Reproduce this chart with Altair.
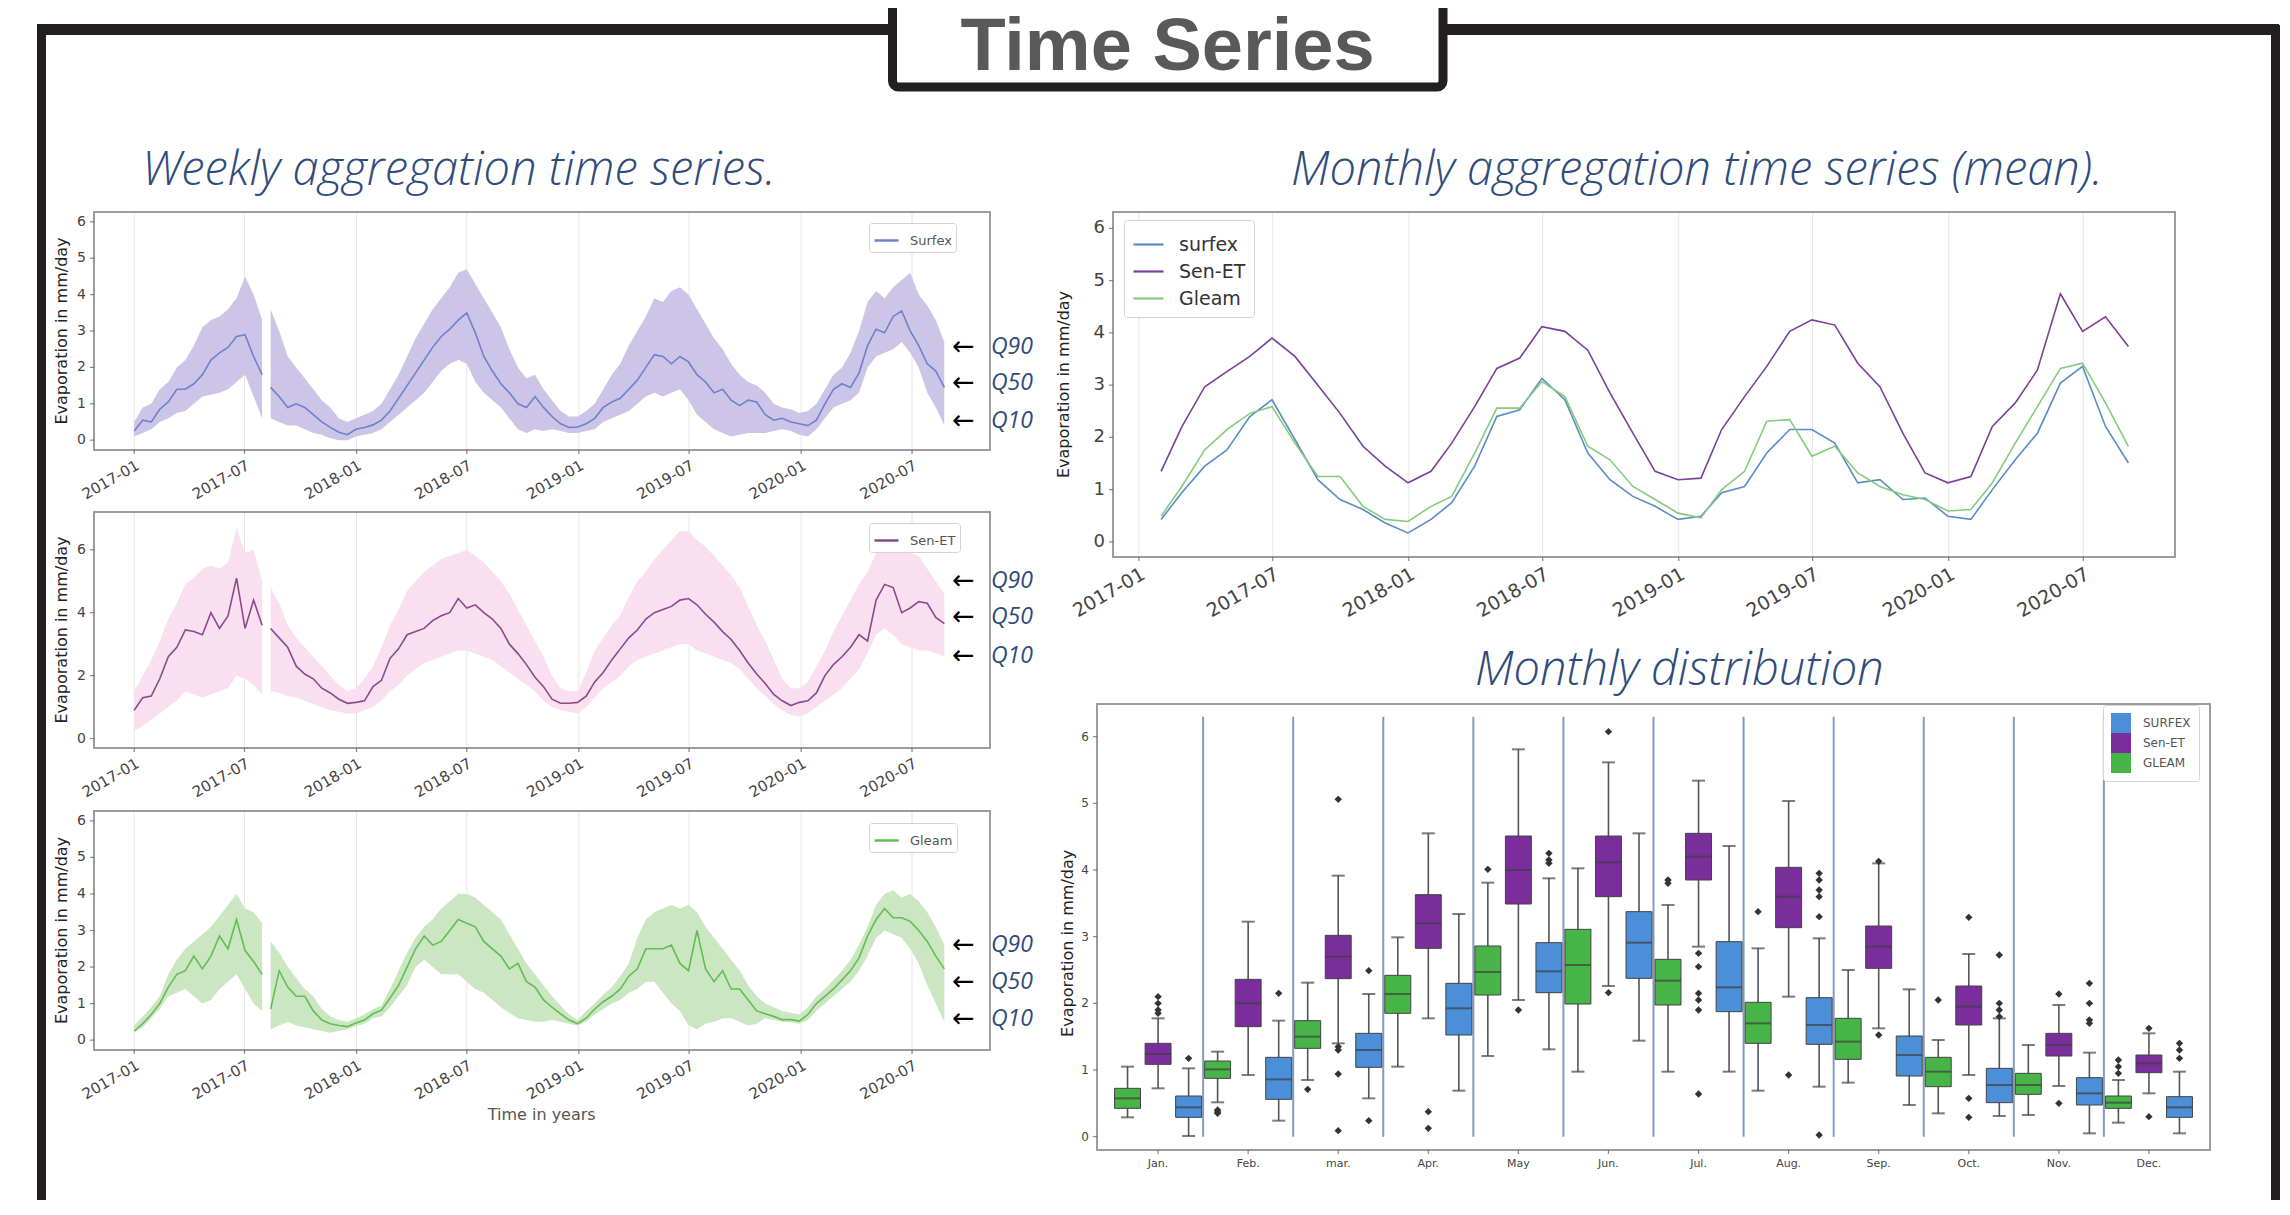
import altair as alt
import pandas as pd

W, H = 2272, 1192
BLUE_TXT = "#2f4b7c"

surfex_q50 = [0.25, 0.55, 0.50, 0.85, 1.05, 1.40, 1.40, 1.55,
              1.80, 2.20, 2.40, 2.55, 2.85, 2.90, 2.30, 1.80,
              1.45, 1.20, 0.90, 1.00, 0.90, 0.70, 0.50, 0.35,
              0.22, 0.15, 0.30, 0.35, 0.42, 0.55, 0.80, 1.15,
              1.50, 1.85, 2.20, 2.55, 2.85, 3.05, 3.30, 3.50,
              2.95, 2.30, 1.90, 1.55, 1.30, 1.00, 0.90, 1.20,
              0.90, 0.65, 0.45, 0.35, 0.36, 0.45, 0.60, 0.90,
              1.05, 1.15, 1.40, 1.65, 2.00, 2.35, 2.30, 2.10,
              2.30, 2.15, 1.80, 1.60, 1.30, 1.40, 1.10, 0.95,
              1.10, 1.05, 0.70, 0.55, 0.60, 0.50, 0.45, 0.40,
              0.55, 1.00, 1.40, 1.55, 1.45, 1.85, 2.60, 3.05,
              2.95, 3.40, 3.55, 3.00, 2.60, 2.10, 1.90, 1.45]
surfex_q10 = [0.10, 0.20, 0.30, 0.50, 0.60, 0.75, 0.80, 1.00,
              1.20, 1.25, 1.30, 1.40, 1.60, 1.80, 1.20, 0.60,
              0.60, 0.50, 0.40, 0.40, 0.30, 0.20, 0.15, 0.05,
              0.00, 0.00, 0.10, 0.15, 0.20, 0.30, 0.50, 0.70,
              0.90, 1.10, 1.30, 1.60, 1.90, 2.10, 2.20, 2.10,
              1.60, 1.30, 1.10, 0.90, 0.60, 0.30, 0.20, 0.30,
              0.25, 0.30, 0.25, 0.20, 0.20, 0.25, 0.30, 0.50,
              0.60, 0.70, 0.80, 1.00, 1.20, 1.30, 1.20, 1.30,
              1.40, 1.10, 0.70, 0.50, 0.30, 0.20, 0.10, 0.15,
              0.20, 0.20, 0.20, 0.25, 0.30, 0.25, 0.15, 0.10,
              0.30, 0.60, 0.90, 1.00, 1.10, 1.30, 2.00, 2.30,
              2.40, 2.50, 2.70, 2.40, 2.00, 1.30, 0.90, 0.40]
surfex_q90 = [0.50, 0.90, 1.00, 1.40, 1.60, 2.00, 2.20, 2.60,
              3.10, 3.30, 3.40, 3.60, 3.90, 4.50, 4.00, 3.30,
              3.60, 3.00, 2.30, 2.00, 1.70, 1.40, 1.10, 0.90,
              0.60, 0.50, 0.60, 0.70, 0.80, 1.00, 1.40, 1.80,
              2.30, 2.80, 3.20, 3.60, 3.90, 4.20, 4.60, 4.70,
              4.30, 3.90, 3.50, 3.10, 2.50, 2.00, 1.70, 1.80,
              1.40, 1.10, 0.80, 0.65, 0.65, 0.80, 1.00, 1.40,
              1.80, 2.10, 2.60, 3.00, 3.40, 3.90, 3.80, 4.10,
              4.20, 4.00, 3.60, 3.20, 2.80, 2.50, 2.10, 1.80,
              1.60, 1.50, 1.30, 1.00, 0.90, 0.85, 0.75, 0.80,
              1.00, 1.40, 1.80, 2.00, 2.40, 3.00, 3.80, 4.10,
              3.90, 4.20, 4.40, 4.60, 4.00, 3.70, 3.30, 2.70]

senet_q50 = [0.90, 1.30, 1.35, 1.90, 2.60, 2.90, 3.45, 3.40,
             3.30, 4.00, 3.50, 3.90, 5.10, 3.50, 4.40, 3.60,
             3.50, 3.20, 2.90, 2.30, 2.05, 1.90, 1.60, 1.45,
             1.25, 1.12, 1.15, 1.20, 1.65, 1.85, 2.55, 2.85,
             3.30, 3.40, 3.50, 3.75, 3.90, 4.00, 4.45, 4.15,
             4.25, 4.00, 3.80, 3.50, 3.00, 2.70, 2.35, 1.95,
             1.65, 1.25, 1.12, 1.12, 1.15, 1.35, 1.80, 2.10,
             2.50, 2.85, 3.20, 3.45, 3.80, 4.00, 4.10, 4.20,
             4.40, 4.45, 4.25, 3.95, 3.70, 3.40, 3.15, 2.80,
             2.40, 2.05, 1.75, 1.40, 1.20, 1.05, 1.15, 1.20,
             1.45, 2.00, 2.35, 2.60, 2.90, 3.30, 3.10, 4.40,
             4.90, 4.80, 4.00, 4.15, 4.35, 4.30, 3.85, 3.65]
senet_q10 = [0.25, 0.40, 0.60, 0.80, 1.00, 1.20, 1.50, 1.40,
             1.30, 1.40, 1.50, 1.60, 2.00, 1.90, 1.70, 1.40,
             1.50, 1.45, 1.35, 1.30, 1.20, 1.10, 1.00, 0.90,
             0.85, 0.80, 0.80, 0.90, 1.00, 1.20, 1.50, 1.70,
             2.00, 2.20, 2.40, 2.50, 2.60, 2.70, 2.80, 2.80,
             2.70, 2.60, 2.50, 2.30, 2.10, 1.90, 1.70, 1.50,
             1.20, 1.00, 0.90, 0.85, 0.80, 1.00, 1.30, 1.60,
             1.80, 2.00, 2.30, 2.50, 2.60, 2.70, 2.80, 2.90,
             3.00, 3.00, 2.80, 2.70, 2.60, 2.50, 2.40, 2.20,
             1.90, 1.60, 1.35, 1.10, 0.90, 0.75, 0.70, 0.80,
             1.00, 1.20, 1.40, 1.60, 1.90, 2.20, 2.70, 3.30,
             3.50, 3.30, 3.00, 2.90, 2.80, 2.80, 2.70, 2.60]
senet_q90 = [1.50, 2.00, 2.50, 3.10, 3.80, 4.30, 4.90, 5.10,
             5.40, 5.50, 5.40, 5.60, 6.70, 5.90, 6.00, 5.00,
             4.80, 4.30, 3.60, 3.20, 2.90, 2.60, 2.30, 2.00,
             1.70, 1.50, 1.60, 1.90, 2.30, 2.90, 3.60, 4.10,
             4.70, 5.00, 5.30, 5.50, 5.70, 5.80, 5.90, 6.00,
             5.80, 5.60, 5.30, 5.00, 4.60, 4.10, 3.60, 3.10,
             2.60, 2.00, 1.60, 1.50, 1.50, 2.10, 2.80, 3.20,
             3.60, 3.90, 4.50, 5.00, 5.30, 5.70, 6.00, 6.30,
             6.60, 6.60, 6.30, 6.10, 5.80, 5.50, 5.20, 4.80,
             4.20, 3.60, 3.10, 2.50, 1.90, 1.60, 1.60, 1.80,
             2.30, 2.80, 3.40, 3.90, 4.40, 4.90, 5.30, 5.90,
             6.10, 6.10, 6.00, 5.90, 5.80, 5.40, 5.00, 4.60]

gleam_q50 = [0.25, 0.45, 0.70, 1.00, 1.45, 1.80, 1.90, 2.30,
             1.95, 2.30, 2.85, 2.50, 3.30, 2.45, 2.15, 1.80,
             0.85, 1.90, 1.45, 1.20, 1.20, 0.80, 0.55, 0.45,
             0.40, 0.37, 0.47, 0.55, 0.72, 0.82, 1.15, 1.50,
             2.00, 2.50, 2.85, 2.60, 2.70, 3.00, 3.30, 3.20,
             3.10, 2.70, 2.50, 2.30, 1.95, 2.10, 1.60, 1.45,
             1.10, 0.90, 0.72, 0.55, 0.45, 0.60, 0.85, 1.05,
             1.20, 1.40, 1.75, 1.95, 2.50, 2.50, 2.50, 2.60,
             2.10, 1.90, 3.00, 1.95, 1.60, 1.90, 1.40, 1.40,
             1.10, 0.80, 0.72, 0.65, 0.56, 0.56, 0.52, 0.70,
             1.00, 1.20, 1.40, 1.65, 1.90, 2.25, 2.85, 3.30,
             3.60, 3.35, 3.35, 3.25, 3.00, 2.70, 2.30, 1.95]
gleam_q10 = [0.20, 0.35, 0.60, 0.85, 1.20, 1.30, 1.40, 1.20,
             1.00, 1.10, 1.40, 1.60, 1.80, 1.40, 1.00, 0.80,
             0.30, 0.40, 0.50, 0.40, 0.35, 0.30, 0.25, 0.20,
             0.25, 0.30, 0.38, 0.45, 0.60, 0.65, 0.90, 1.20,
             1.50, 2.00, 2.20, 2.00, 1.80, 1.80, 1.80, 1.60,
             1.40, 1.30, 1.10, 0.90, 0.75, 0.60, 0.55, 0.50,
             0.50, 0.55, 0.50, 0.45, 0.40, 0.50, 0.70, 0.85,
             1.00, 1.10, 1.30, 1.40, 1.60, 1.60, 1.30, 1.00,
             0.80, 0.40, 0.30, 0.45, 0.50, 0.60, 0.60, 0.50,
             0.40, 0.45, 0.60, 0.55, 0.50, 0.48, 0.45, 0.55,
             0.80, 1.00, 1.20, 1.40, 1.60, 1.90, 2.30, 2.80,
             3.00, 2.90, 2.80, 2.50, 2.10, 1.50, 1.00, 0.50]
gleam_q90 = [0.40, 0.65, 0.90, 1.20, 1.80, 2.20, 2.50, 2.70,
             2.90, 3.10, 3.40, 3.70, 4.00, 3.60, 3.50, 3.20,
             2.70, 2.40, 2.00, 1.70, 1.40, 1.20, 0.85, 0.65,
             0.55, 0.50, 0.60, 0.70, 0.85, 0.95, 1.40, 1.90,
             2.40, 2.80, 3.10, 3.30, 3.60, 3.80, 4.00, 4.00,
             3.90, 3.70, 3.50, 3.30, 2.90, 2.50, 2.10, 1.80,
             1.50, 1.20, 0.95, 0.70, 0.55, 0.80, 1.00, 1.25,
             1.45, 1.75, 2.10, 2.80, 3.30, 3.50, 3.60, 3.70,
             3.60, 3.70, 3.50, 3.10, 2.80, 2.50, 2.20, 1.90,
             1.50, 1.20, 1.00, 0.90, 0.80, 0.75, 0.70, 0.90,
             1.20, 1.40, 1.65, 1.90, 2.20, 2.60, 3.10, 3.70,
             4.00, 4.10, 3.90, 4.00, 3.80, 3.50, 3.10, 2.60]

# ---------------- monthly means (month ends 2017-01 .. 2020-08) ----------------
monthly_surfex = [0.43, 0.94, 1.45, 1.76, 2.40, 2.72, 1.96, 1.19, 0.81, 0.62, 0.36, 0.17,
                  0.43, 0.75, 1.45, 2.40, 2.53, 3.13, 2.72, 1.70, 1.19, 0.87, 0.68, 0.43,
                  0.49, 0.94, 1.06, 1.70, 2.15, 2.15, 1.89, 1.13, 1.19, 0.81, 0.84, 0.49,
                  0.43, 1.00, 1.57, 2.08, 3.04, 3.36, 2.21, 1.51]
monthly_senet = [1.35, 2.20, 2.97, 3.26, 3.55, 3.90, 3.55, 3.00, 2.46, 1.83, 1.45, 1.13,
                 1.35, 1.89, 2.59, 3.32, 3.52, 4.12, 4.03, 3.67, 2.85, 2.08, 1.35, 1.19,
                 1.22, 2.15, 2.78, 3.36, 4.03, 4.25, 4.15, 3.42, 2.97, 2.08, 1.32, 1.13,
                 1.25, 2.21, 2.66, 3.29, 4.75, 4.03, 4.31, 3.74]
monthly_gleam = [0.49, 1.06, 1.76, 2.15, 2.46, 2.59, 1.89, 1.25, 1.25, 0.68, 0.43, 0.39,
                 0.68, 0.87, 1.70, 2.56, 2.56, 3.07, 2.78, 1.83, 1.57, 1.06, 0.81, 0.55,
                 0.46, 1.00, 1.35, 2.31, 2.34, 1.64, 1.83, 1.32, 1.06, 0.90, 0.81, 0.59,
                 0.62, 1.13, 1.89, 2.59, 3.32, 3.42, 2.66, 1.83]

# ---------------- monthly distribution (box statistics) ----------------
months = ["Jan.", "Feb.", "mar.", "Apr.", "May", "Jun.", "Jul.", "Aug.", "Sep.", "Oct.", "Nov.", "Dec."]
box_sources = ["SURFEX", "Sen-ET", "GLEAM"]
gleam_lo  = [0.29, 0.515, 0.85, 1.05, 1.21, 0.975, 0.975, 0.69, 0.81, 0.35, 0.325, 0.21]
gleam_q1  = [0.425, 0.875, 1.325, 1.85, 2.125, 1.99, 1.975, 1.40, 1.16, 0.75, 0.635, 0.425]
gleam_med = [0.575, 1.01, 1.50, 2.14, 2.47, 2.575, 2.34, 1.70, 1.425, 0.975, 0.775, 0.51]
gleam_q3  = [0.725, 1.135, 1.74, 2.42, 2.86, 3.11, 2.66, 2.015, 1.775, 1.19, 0.95, 0.61]
gleam_hi  = [1.05, 1.275, 2.31, 2.99, 3.81, 4.025, 3.475, 2.825, 2.50, 1.45, 1.375, 0.85]
senet_lo  = [0.725, 0.925, 1.40, 1.775, 2.05, 2.26, 2.85, 2.10, 1.625, 0.925, 0.76, 0.65]
senet_q1  = [1.085, 1.65, 2.37, 2.825, 3.49, 3.60, 3.85, 3.135, 2.525, 1.675, 1.21, 0.96]
senet_med = [1.24, 2.00, 2.70, 3.20, 4.00, 4.115, 4.20, 3.60, 2.85, 1.95, 1.375, 1.10]
senet_q3  = [1.40, 2.36, 3.02, 3.63, 4.51, 4.51, 4.55, 4.04, 3.16, 2.26, 1.55, 1.225]
senet_hi  = [1.775, 3.225, 3.915, 4.55, 5.81, 5.615, 5.34, 5.035, 4.10, 2.74, 1.975, 1.55]
surfex_lo  = [0.01, 0.24, 0.575, 0.69, 1.31, 1.44, 0.975, 0.75, 0.475, 0.31, 0.05, 0.05]
surfex_q1  = [0.29, 0.56, 1.04, 1.525, 2.16, 2.375, 1.875, 1.385, 0.91, 0.51, 0.475, 0.29]
surfex_med = [0.44, 0.86, 1.30, 1.925, 2.48, 2.91, 2.24, 1.675, 1.225, 0.775, 0.65, 0.44]
surfex_q3  = [0.61, 1.19, 1.55, 2.30, 2.91, 3.375, 2.925, 2.085, 1.51, 1.025, 0.885, 0.60]
surfex_hi  = [1.025, 1.74, 2.14, 3.34, 3.875, 4.55, 4.36, 2.975, 2.21, 1.775, 1.26, 0.975]
gleam_out = {"Feb.": [0.40, 0.35, 0.37], "mar.": [0.71], "May": [4.01], "Jul.": [3.85, 3.80],
             "Aug.": [3.375], "Oct.": [2.05], "Dec.": [0.95, 1.05, 1.15]}
senet_out = {"Jan.": [1.85, 1.90, 2.00, 2.10], "mar.": [5.06, 1.35, 1.30, 0.94, 0.09],
             "Apr.": [0.375, 0.125], "May": [1.90], "Jun.": [6.075, 2.16],
             "Jul.": [2.75, 2.55, 2.15, 2.05, 1.90, 0.64], "Aug.": [0.925], "Sep.": [4.13, 1.525],
             "Oct.": [3.29, 0.575, 0.29], "Nov.": [2.14, 0.50], "Dec.": [1.625, 0.30]}
surfex_out = {"Jan.": [1.175], "Feb.": [2.15], "mar.": [2.49, 0.24], "May": [4.25, 4.15, 4.10],
              "Aug.": [3.95, 3.85, 3.70, 3.60, 3.30, 0.025], "Oct.": [2.00, 1.90, 1.80, 2.725],
              "Nov.": [2.30, 2.00, 1.75, 1.70], "Dec.": [1.40, 1.30, 1.175]}

TICKS = ["2017-01-01", "2017-07-01", "2018-01-01", "2018-07-01",
         "2019-01-01", "2019-07-01", "2020-01-01", "2020-07-01"]
TICK_LABELS = ["2017-01", "2017-07", "2018-01", "2018-07",
               "2019-01", "2019-07", "2020-01", "2020-07"]

for arr in [surfex_q10, surfex_q50, surfex_q90, senet_q10, senet_q50, senet_q90,
            gleam_q10, gleam_q50, gleam_q90]:
    assert len(arr) == 96, len(arr)
for arr in [monthly_surfex, monthly_senet, monthly_gleam]:
    assert len(arr) == 44, len(arr)

# ---------------- helpers ----------------
def D(s):
    y, m, d = (int(p) for p in s.split("-"))
    return alt.DateTime(year=y, month=m, date=d)


WDATES = pd.date_range("2017-01-01", periods=96, freq="14D")
MDATES = pd.date_range("2017-02-01", periods=44, freq="MS") - pd.Timedelta(days=1)

LBL = "#444444"
TCK = "#555555"
FRAME = "#9c9c9c"
GRID = "#e6e6e6"
YTITLE = "Evaporation in mm/day"
AX_FONT = "DejaVu Sans"


def y_axis_marks(x_df_val, x_type, xs, ys, yvals, yfont, title_dx, title_y):
    """Left axis (ticks, labels, title) drawn with marks through the panel's scales."""
    ydf = pd.DataFrame({"v": yvals, "xl": x_df_val, "label": [str(v) for v in yvals]})
    xenc = alt.X(f"xl:{x_type}", scale=xs, axis=None)
    ticks = alt.Chart(ydf).mark_tick(orient="horizontal", size=4, thickness=1.2, color=TCK,
                                     xOffset=-2).encode(x=xenc, y=alt.Y("v:Q", scale=ys, axis=None))
    labels = alt.Chart(ydf).mark_text(align="right", baseline="middle", xOffset=-8, fontSize=yfont,
                                      color=LBL, font=AX_FONT).encode(
        x=xenc, y=alt.Y("v:Q", scale=ys, axis=None), text="label:N")
    tdf = pd.DataFrame({"xl": [x_df_val], "v": [title_y], "t": [YTITLE]})
    title = alt.Chart(tdf).mark_text(angle=270, align="center", baseline="middle", xOffset=title_dx,
                                     fontSize=16, color="#222222", font=AX_FONT).encode(
        x=xenc, y=alt.Y("v:Q", scale=ys, axis=None), text="t:N")
    return [ticks, labels, title]


def x_time_axis_marks(xs, ys, ybottom, xfont, xtitle=None, xtitle_dy=0, xmid=None):
    tdf = pd.DataFrame({"date": pd.to_datetime(TICKS), "label": TICK_LABELS, "yb": ybottom})
    xenc = alt.X("date:T", scale=xs, axis=None)
    yenc = alt.Y("yb:Q", scale=ys, axis=None)
    ticks = alt.Chart(tdf).mark_tick(orient="vertical", size=4, thickness=1.2, color=TCK,
                                     yOffset=2).encode(x=xenc, y=yenc)
    labels = alt.Chart(tdf).mark_text(angle=330, align="right", baseline="top", yOffset=8,
                                      fontSize=xfont, color=LBL, font=AX_FONT).encode(
        x=xenc, y=yenc, text="label:N")
    out = [ticks, labels]
    if xtitle:
        ttl = pd.DataFrame({"date": [xmid], "yb": [ybottom], "t": [xtitle]})
        out.append(alt.Chart(ttl).mark_text(align="center", baseline="middle", yOffset=xtitle_dy,
                                            fontSize=16, color="#555555", font=AX_FONT).encode(
            x=xenc, y=yenc, text="t:N"))
    return out


def weekly_panel(name, q10, q50, q90, line_color, band_color, y_top, y_bot, ydom, yvals,
                 leg_y, q_vals, xtitle):
    df = pd.DataFrame({"date": WDATES, "q10": q10, "q50": q50, "q90": q90})
    df["seg"] = (df["date"] > pd.Timestamp("2017-08-05")).astype(int)
    df["series"] = name
    x0, x1 = "2016-10-27", "2020-11-06"
    xs = alt.Scale(domain=[D(x0), D(x1)], range=[86, 982])
    ys = alt.Scale(domain=ydom, range=[y_bot, y_top], nice=False, zero=False)

    grid_df = pd.DataFrame({"date": pd.to_datetime(TICKS), "ylo": ydom[0], "yhi": ydom[1]})
    grid = alt.Chart(grid_df).mark_rule(color=GRID, strokeWidth=1).encode(
        x=alt.X("date:T", scale=xs, axis=None),
        y=alt.Y("ylo:Q", scale=ys, axis=None), y2="yhi:Q")

    band = alt.Chart(df).mark_area(color=band_color, opacity=1).encode(
        x=alt.X("date:T", scale=xs, axis=None),
        y=alt.Y("q10:Q", scale=ys, axis=None),
        y2="q90:Q", detail="seg:N")

    line = alt.Chart(df).mark_line(strokeWidth=1.6).encode(
        x=alt.X("date:T", scale=xs, axis=None),
        y=alt.Y("q50:Q", scale=ys, axis=None),
        detail="seg:N",
        color=alt.Color("series:N", scale=alt.Scale(domain=[name], range=[line_color]),
                        legend=alt.Legend(orient="none", legendX=861, legendY=leg_y, title=None,
                                          direction="vertical", labelFontSize=13, labelColor="#555555",
                                          symbolType="stroke", symbolSize=576, symbolStrokeWidth=2.5,
                                          labelOffset=10, padding=4,
                                          strokeColor="#d4d4d4", fillColor="white", cornerRadius=3)))

    frame_df = pd.DataFrame({"x0": [pd.Timestamp(x0)], "x1": [pd.Timestamp(x1)],
                             "y0": [ydom[0]], "y1": [ydom[1]]})
    frame = alt.Chart(frame_df).mark_rect(fillOpacity=0, stroke=FRAME, strokeWidth=2).encode(
        x=alt.X("x0:T", scale=xs, axis=None), x2="x1:T",
        y=alt.Y("y0:Q", scale=ys, axis=None), y2="y1:Q")

    qdf = pd.DataFrame({"label": ["Q90", "Q50", "Q10"], "v": q_vals,
                        "ad": pd.Timestamp("2020-09-23"), "td": pd.Timestamp(x1)})
    arrows = alt.Chart(qdf).mark_text(text="\u2190", font="DejaVu Sans", fontSize=27,
                                      color="black", baseline="middle", align="center").encode(
        x=alt.X("ad:T", scale=xs, axis=None), y=alt.Y("v:Q", scale=ys, axis=None))
    qtext = alt.Chart(qdf).mark_text(font="Open Sans", fontStyle="italic", fontSize=23,
                                     color=BLUE_TXT, baseline="middle", align="left", dx=1).encode(
        x=alt.X("td:T", scale=xs, axis=None), y=alt.Y("v:Q", scale=ys, axis=None),
        text="label:N")

    ymid = (ydom[0] + ydom[1]) / 2
    axes = y_axis_marks(pd.Timestamp(x0), "T", xs, ys, yvals, 14, -32, ymid)
    axes += x_time_axis_marks(xs, ys, ydom[0], 15, xtitle, 65, pd.Timestamp("2018-11-01"))
    return alt.layer(grid, band, line, frame, arrows, qtext, *axes)


p1 = weekly_panel("Surfex", surfex_q10, surfex_q50, surfex_q90, "#6c82cc", "#ccc5e7",
                  204, 442, [-0.27, 6.27], [0, 1, 2, 3, 4, 5, 6], 215, [2.57, 1.56, 0.53], None)
p2 = weekly_panel("Sen-ET", senet_q10, senet_q50, senet_q90, "#8a4a8e", "#fadff0",
                  504, 740, [-0.3, 7.2], [0, 2, 4, 6], 515, [5.01, 3.85, 2.62], None)
p3 = weekly_panel("Gleam", gleam_q10, gleam_q50, gleam_q90, "#62bd52", "#cae7c2",
                  803, 1042, [-0.27, 6.27], [0, 1, 2, 3, 4, 5, 6], 815, [2.60, 1.60, 0.57],
                  "Time in years")

# ---------------- monthly mean chart ----------------
mser = ["surfex", "Sen-ET", "Gleam"]
mdf = pd.DataFrame({"date": list(MDATES) * 3,
                    "series": ["surfex"] * 44 + ["Sen-ET"] * 44 + ["Gleam"] * 44,
                    "value": monthly_surfex + monthly_senet + monthly_gleam})
mx0, mx1 = "2016-11-27", "2020-11-02"
mxs = alt.Scale(domain=[D(mx0), D(mx1)], range=[1105, 2167])
mdom = [-0.29, 6.315]
mys = alt.Scale(domain=mdom, range=[549, 204], nice=False, zero=False)
mgrid = alt.Chart(pd.DataFrame({"date": pd.to_datetime(TICKS), "ylo": mdom[0], "yhi": mdom[1]})
                  ).mark_rule(color=GRID, strokeWidth=1).encode(
    x=alt.X("date:T", scale=mxs, axis=None), y=alt.Y("ylo:Q", scale=mys, axis=None), y2="yhi:Q")
mlines = alt.Chart(mdf).mark_line(strokeWidth=1.6).encode(
    x=alt.X("date:T", scale=mxs, axis=None),
    y=alt.Y("value:Q", scale=mys, axis=None),
    color=alt.Color("series:N", sort=mser,
                    scale=alt.Scale(domain=mser, range=["#5a8cc6", "#7c3f96", "#84cb7c"]),
                    legend=alt.Legend(orient="none", legendX=1116, legendY=212, title=None,
                                      direction="vertical", labelFontSize=19, labelColor="#333333",
                                      symbolType="stroke", symbolSize=900, symbolStrokeWidth=2.2,
                                      labelOffset=14, padding=8, rowPadding=0,
                                      strokeColor="#d4d4d4", fillColor="white", cornerRadius=3)))
mframe = alt.Chart(pd.DataFrame({"x0": [pd.Timestamp(mx0)], "x1": [pd.Timestamp(mx1)],
                                 "y0": [mdom[0]], "y1": [mdom[1]]})
                   ).mark_rect(fillOpacity=0, stroke=FRAME, strokeWidth=2).encode(
    x=alt.X("x0:T", scale=mxs, axis=None), x2="x1:T",
    y=alt.Y("y0:Q", scale=mys, axis=None), y2="y1:Q")
maxes = y_axis_marks(pd.Timestamp(mx0), "T", mxs, mys, [0, 1, 2, 3, 4, 5, 6], 18, -49,
                     (mdom[0] + mdom[1]) / 2)
maxes += x_time_axis_marks(mxs, mys, mdom[0], 19)
monthly = alt.layer(mgrid, mlines, mframe, *maxes)

# ---------------- box plot ----------------
rows = []
stats = {"GLEAM": (gleam_lo, gleam_q1, gleam_med, gleam_q3, gleam_hi),
         "Sen-ET": (senet_lo, senet_q1, senet_med, senet_q3, senet_hi),
         "SURFEX": (surfex_lo, surfex_q1, surfex_med, surfex_q3, surfex_hi)}
for src, (lo, q1, med, q3, hi) in stats.items():
    for i, m in enumerate(months):
        rows.append({"month": m, "source": src, "lo": lo[i], "q1": q1[i], "med": med[i],
                     "q3": q3[i], "hi": hi[i]})
bdf = pd.DataFrame(rows)
orows = []
for src, outs in [("GLEAM", gleam_out), ("Sen-ET", senet_out), ("SURFEX", surfex_out)]:
    for m, vals in outs.items():
        for v in vals:
            orows.append({"month": m, "source": src, "value": v})
odf = pd.DataFrame(orows)
sep_df = pd.DataFrame({"month": months[1:], "y0": 0.0, "y1": 6.3})

bdom = [-0.2, 6.49]
bxs = alt.Scale(domain=months, range=[1089, 2202], paddingInner=0, paddingOuter=0.178)
bys = alt.Scale(domain=bdom, range=[1142, 696], nice=False, zero=False)
bxo = alt.XOffset("source:N", scale=alt.Scale(domain=["GLEAM", "Sen-ET", "SURFEX"],
                                              paddingInner=0.15, paddingOuter=0.05))
bx = alt.X("month:N", scale=bxs, axis=None)

seps = alt.Chart(sep_df).mark_rule(color="#8499c4", strokeWidth=2).encode(
    x=alt.X("month:N", scale=bxs, axis=None, bandPosition=0),
    y=alt.Y("y0:Q", scale=bys, axis=None), y2="y1:Q")
whisk = alt.Chart(bdf).mark_rule(color="#555555", strokeWidth=1.6).encode(
    x=bx, xOffset=bxo, y=alt.Y("lo:Q", scale=bys, axis=None), y2="hi:Q")
boxes = alt.Chart(bdf).mark_bar(stroke="#444444", strokeWidth=1).encode(
    x=bx, xOffset=bxo,
    y=alt.Y("q1:Q", scale=bys, axis=None),
    y2="q3:Q",
    color=alt.Color("source:N", sort=box_sources,
                    scale=alt.Scale(domain=box_sources, range=["#4a8fd8", "#7a2e9c", "#46b446"]),
                    legend=alt.Legend(orient="none", legendX=2095, legendY=697, title=None,
                                      direction="vertical", labelFontSize=12, labelColor="#555555",
                                      symbolType="square", symbolSize=400, symbolStrokeWidth=0,
                                      rowPadding=0, labelOffset=12, padding=8,
                                      strokeColor="#d4d4d4", fillColor="white", cornerRadius=3)))
meds = alt.Chart(bdf).mark_tick(color="#3f3f3f", thickness=2, size=26).encode(
    x=bx, xOffset=bxo, y=alt.Y("med:Q", scale=bys, axis=None))
cap_lo = alt.Chart(bdf).mark_tick(color="#444444", thickness=2, size=13).encode(
    x=bx, xOffset=bxo, y=alt.Y("lo:Q", scale=bys, axis=None))
cap_hi = alt.Chart(bdf).mark_tick(color="#444444", thickness=2, size=13).encode(
    x=bx, xOffset=bxo, y=alt.Y("hi:Q", scale=bys, axis=None))
fliers = alt.Chart(odf).mark_point(shape="diamond", filled=True, size=55, color="#333333",
                                   opacity=1).encode(
    x=bx, xOffset=bxo, y=alt.Y("value:Q", scale=bys, axis=None))
mlab_df = pd.DataFrame({"month": months, "yb": bdom[0]})
mticks = alt.Chart(mlab_df).mark_tick(orient="vertical", size=4, thickness=1.2, color=TCK,
                                      yOffset=2).encode(x=bx, y=alt.Y("yb:Q", scale=bys, axis=None))
mlabels = alt.Chart(mlab_df).mark_text(baseline="top", align="center", yOffset=8, fontSize=11,
                                       color=LBL, font=AX_FONT).encode(
    x=bx, y=alt.Y("yb:Q", scale=bys, axis=None), text="month:N")
box = alt.layer(seps, whisk, boxes, meds, cap_lo, cap_hi, fliers, mticks, mlabels)

# frame + y axis of the box plot on a plain [0, 1] horizontal scale spanning the plot box
bfx = alt.Scale(domain=[0, 1], range=[1089, 2202])
bframe = alt.Chart(pd.DataFrame({"x0": [0], "x1": [1], "y0": [bdom[0]], "y1": [bdom[1]]})
                   ).mark_rect(fillOpacity=0, stroke=FRAME, strokeWidth=2).encode(
    x=alt.X("x0:Q", scale=bfx, axis=None), x2="x1:Q",
    y=alt.Y("y0:Q", scale=bys, axis=None), y2="y1:Q")
baxes = y_axis_marks(0, "Q", bfx, bys, [0, 1, 2, 3, 4, 5, 6], 12, -29, 2.9)
box_frame = alt.layer(bframe, *baxes)

# ---------------- poster decorations ----------------
one = pd.DataFrame({"k": [0]})
frame_top = alt.Chart(one).mark_rule(color="#231f20", strokeWidth=11).encode(
    x=alt.value(29), x2=alt.value(2271), y=alt.value(21.5))
frame_left = alt.Chart(one).mark_rule(color="#231f20", strokeWidth=9).encode(
    x=alt.value(33.5), y=alt.value(17), y2=alt.value(H))
frame_right = alt.Chart(one).mark_rule(color="#231f20", strokeWidth=9).encode(
    x=alt.value(2267.5), y=alt.value(17), y2=alt.value(H))
title_box = alt.Chart(one).mark_rect(fill="white", stroke="#231f20", strokeWidth=9,
                                     cornerRadius=6).encode(
    x=alt.value(884.5), x2=alt.value(1435), y=alt.value(-30), y2=alt.value(79))
title_txt = alt.Chart(one).mark_text(text="Time Series", font="Liberation Sans", fontWeight="bold",
                                     fontSize=74, color="#595959", align="center",
                                     baseline="alphabetic").encode(x=alt.value(1159.5), y=alt.value(62))


def subtitle(txt, x, y):
    return alt.Chart(one).mark_text(text=txt, font="Open Sans", fontStyle="italic", fontWeight=300,
                                    fontSize=47, color=BLUE_TXT, align="left",
                                    baseline="alphabetic").encode(x=alt.value(x), y=alt.value(y))


sub1 = subtitle("Weekly aggregation time series.", 134, 177)
sub2 = subtitle("Monthly aggregation time series (mean).", 1283, 177)
sub3 = subtitle("Monthly distribution", 1467, 677)

chart = alt.layer(
    frame_top, frame_left, frame_right, title_box, title_txt, sub1, sub2, sub3,
    p1, p2, p3, monthly, box_frame, box
).resolve_scale(
    x="independent", y="independent", color="independent", xOffset="independent"
).resolve_legend(
    color="independent"
).properties(
    width=W, height=H, padding=0, autosize=alt.AutoSizeParams(type="none")
).configure(
    font="DejaVu Sans"
).configure_view(strokeWidth=0)

chart.save("out.html", embed_options={"renderer": "svg", "actions": False})
